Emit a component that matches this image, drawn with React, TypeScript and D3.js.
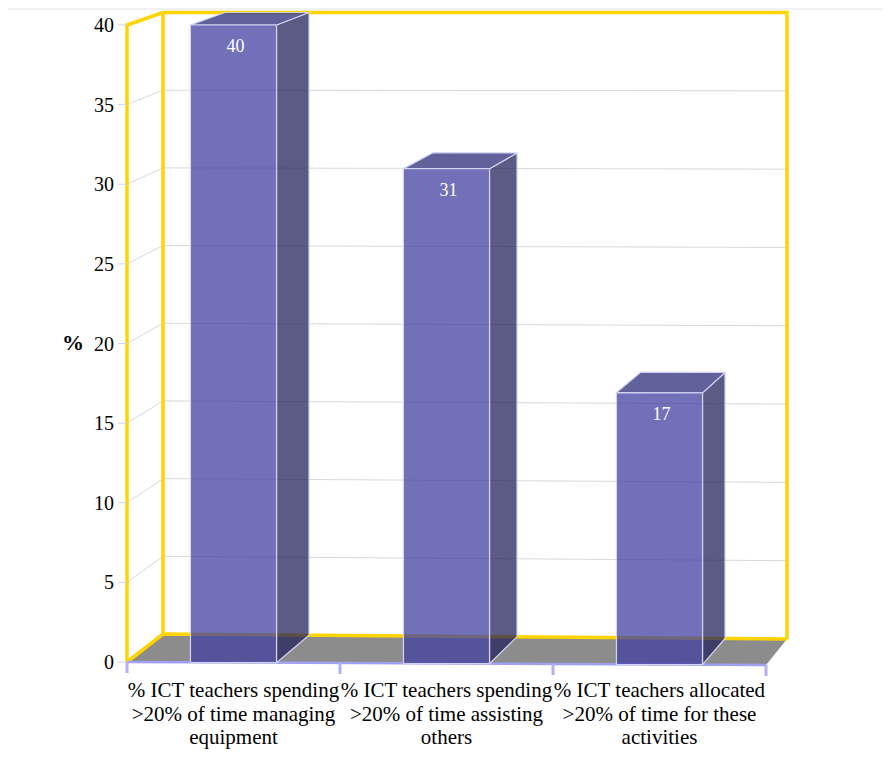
import React from "react";
import * as d3 from "d3";

// Categories (one label per line) and the values shown on the bars
const categoryLines: string[][] = [
  ["% ICT teachers spending", ">20% of time managing", "equipment"],
  ["% ICT teachers spending", ">20% of time assisting", "others"],
  ["% ICT teachers allocated", ">20% of time for these", "activities"],
];
const categories = ["managing", "assisting", "allocated"];
const values = [40, 31, 17];
const yTicks = [0, 5, 10, 15, 20, 25, 30, 35, 40];

const W = 890;
const H = 757;

// Front and back planes of the 3D box (screen pixels)
const FRONT = { x0: 127, x1: 766, floor0: 662, floor1: 665, top: 25 };
const BACK = { x0: 163, x1: 787, floor0: 634, floor1: 639, top: 12.5 };

const vScale = d3.scaleLinear().domain([0, 40]).range([0, 1]);
const xScale = d3
  .scaleBand<string>()
  .domain(categories)
  .range([FRONT.x0, FRONT.x1])
  .paddingInner(0.596)
  .paddingOuter(0.298);

const lerp = (a: number, b: number, t: number) => a + (b - a) * t;

// Project a point given by front-plane x, value v and depth z (0 front, 1 back)
function project(x: number, v: number, z: number): [number, number] {
  const t = (x - FRONT.x0) / (FRONT.x1 - FRONT.x0);
  const k = vScale(v);
  const fx = x;
  const fy = lerp(lerp(FRONT.floor0, FRONT.floor1, t), FRONT.top, k);
  const bx = lerp(BACK.x0, BACK.x1, t);
  const by = lerp(lerp(BACK.floor0, BACK.floor1, t), BACK.top, k);
  return [lerp(fx, bx, z), lerp(fy, by, z)];
}

const poly = (pts: [number, number][]) =>
  pts.map((p) => `${p[0].toFixed(2)},${p[1].toFixed(2)}`).join(" ");

const line = d3.line<[number, number]>();

const YELLOW = "#ffd400";
const GRID = "#d9d9d9";
const FONT = "'Liberation Serif', 'Times New Roman', serif";

export default function App() {
  const vMax = 40;
  const xL = FRONT.x0;
  const xR = FRONT.x1;

  const floorPts: [number, number][] = [
    project(xL, 0, 0),
    project(xL, 0, 1),
    project(xR, 0, 1),
    project(xR, 0, 0),
  ];

  const bars = categories.map((c, i) => {
    const x0 = xScale(c)!;
    const x1 = x0 + xScale.bandwidth();
    const v = values[i];
    const front: [number, number][] = [
      project(x0, 0, 0),
      project(x0, v, 0),
      project(x1, v, 0),
      project(x1, 0, 0),
    ];
    const side: [number, number][] = [
      project(x1, 0, 0),
      project(x1, v, 0),
      project(x1, v, 1),
      project(x1, 0, 1),
    ];
    const top: [number, number][] = [
      project(x0, v, 0),
      project(x0, v, 1),
      project(x1, v, 1),
      project(x1, v, 0),
    ];
    const labelPos = project((x0 + x1) / 2, v, 0);
    return { c, v, front, side, top, labelPos };
  });

  const boundaries = d3.range(categories.length + 1).map((i) => FRONT.x0 + i * xScale.step());

  return (
    <svg
      width={W}
      height={H}
      style={{ position: "absolute", left: 0, top: 0, display: "block", background: "#fff" }}
    >
      {/* frame line at top */}
      <line x1={8} x2={882} y1={9} y2={9} stroke="#e4e4e4" strokeWidth={1} />

      {/* gridlines on the back and left walls */}
      {yTicks
        .filter((v) => v > 0 && v < vMax)
        .map((v) => (
          <g key={`g${v}`}>
            <path d={line([project(xL, v, 0), project(xL, v, 1)])!} stroke={GRID} strokeWidth={1} fill="none" />
            <path d={line([project(xL, v, 1), project(xR, v, 1)])!} stroke={GRID} strokeWidth={1} fill="none" />
          </g>
        ))}

      {/* floor */}
      <polygon points={poly(floorPts)} fill="#8c8c8c" />

      {/* wall outlines */}
      <g stroke={YELLOW} strokeWidth={3.5} fill="none" strokeLinejoin="miter">
        <path d={line([project(xL, 0, 0), project(xL, vMax, 0), project(xL, vMax, 1), project(xR, vMax, 1), project(xR, 0, 1)])!} />
        <path d={line([project(xL, 0, 0), project(xL, 0, 1), project(xR, 0, 1)])!} />
        <path d={line([project(xL, 0, 1), project(xL, vMax, 1)])!} />
      </g>

      {/* value axis ticks */}
      {yTicks.map((v) => {
        const [px, py] = project(xL, v, 0);
        return (
          <g key={`t${v}`}>
            <line x1={px - 9} x2={px} y1={py} y2={py} stroke="#d2d0f5" strokeWidth={1} />
            <text
              x={114}
              y={py + 7}
              textAnchor="end"
              fontFamily={FONT}
              fontSize={20}
              fill="#000"
            >
              {v}
            </text>
          </g>
        );
      })}

      {/* category axis */}
      <path d={line([project(xL, 0, 0), project(xR, 0, 0)])!} stroke="#a19ff0" strokeWidth={2.5} fill="none" />
      {boundaries.map((bx, i) => {
        const [px, py] = project(bx, 0, 0);
        return <line key={`b${i}`} x1={px} x2={px} y1={py} y2={py + 11} stroke="#b3b1f5" strokeWidth={3} />;
      })}

      {/* bars */}
      {bars.map((b) => (
        <g key={b.c} stroke="#d4d2f2" strokeWidth={1.2} strokeLinejoin="round">
          <polygon points={poly(b.side)} fill="rgb(36,36,92)" fillOpacity={0.75} />
          <polygon points={poly(b.top)} fill="rgb(44,45,122)" fillOpacity={0.75} />
          <polygon points={poly(b.front)} fill="rgb(66,64,162)" fillOpacity={0.75} />
        </g>
      ))}

      {/* bar value labels */}
      {bars.map((b) => (
        <text
          key={`l${b.c}`}
          x={b.labelPos[0] + 2}
          y={b.labelPos[1] + 27}
          textAnchor="middle"
          fontFamily={FONT}
          fontSize={18}
          fill="#fff"
        >
          {b.v}
        </text>
      ))}

      {/* category labels */}
      {categories.map((c, i) => {
        const cx = xScale(c)! + xScale.bandwidth() / 2;
        return (
          <text key={`c${c}`} textAnchor="middle" fontFamily={FONT} fontSize={21} fill="#000">
            {categoryLines[i].map((ln, j) => (
              <tspan key={j} x={cx} y={697 + j * 23.5}>
                {ln}
              </tspan>
            ))}
          </text>
        );
      })}

      {/* value axis title */}
      <text x={73} y={350} textAnchor="middle" fontFamily={FONT} fontSize={22} fontWeight="bold" fill="#000">
        %
      </text>
    </svg>
  );
}
